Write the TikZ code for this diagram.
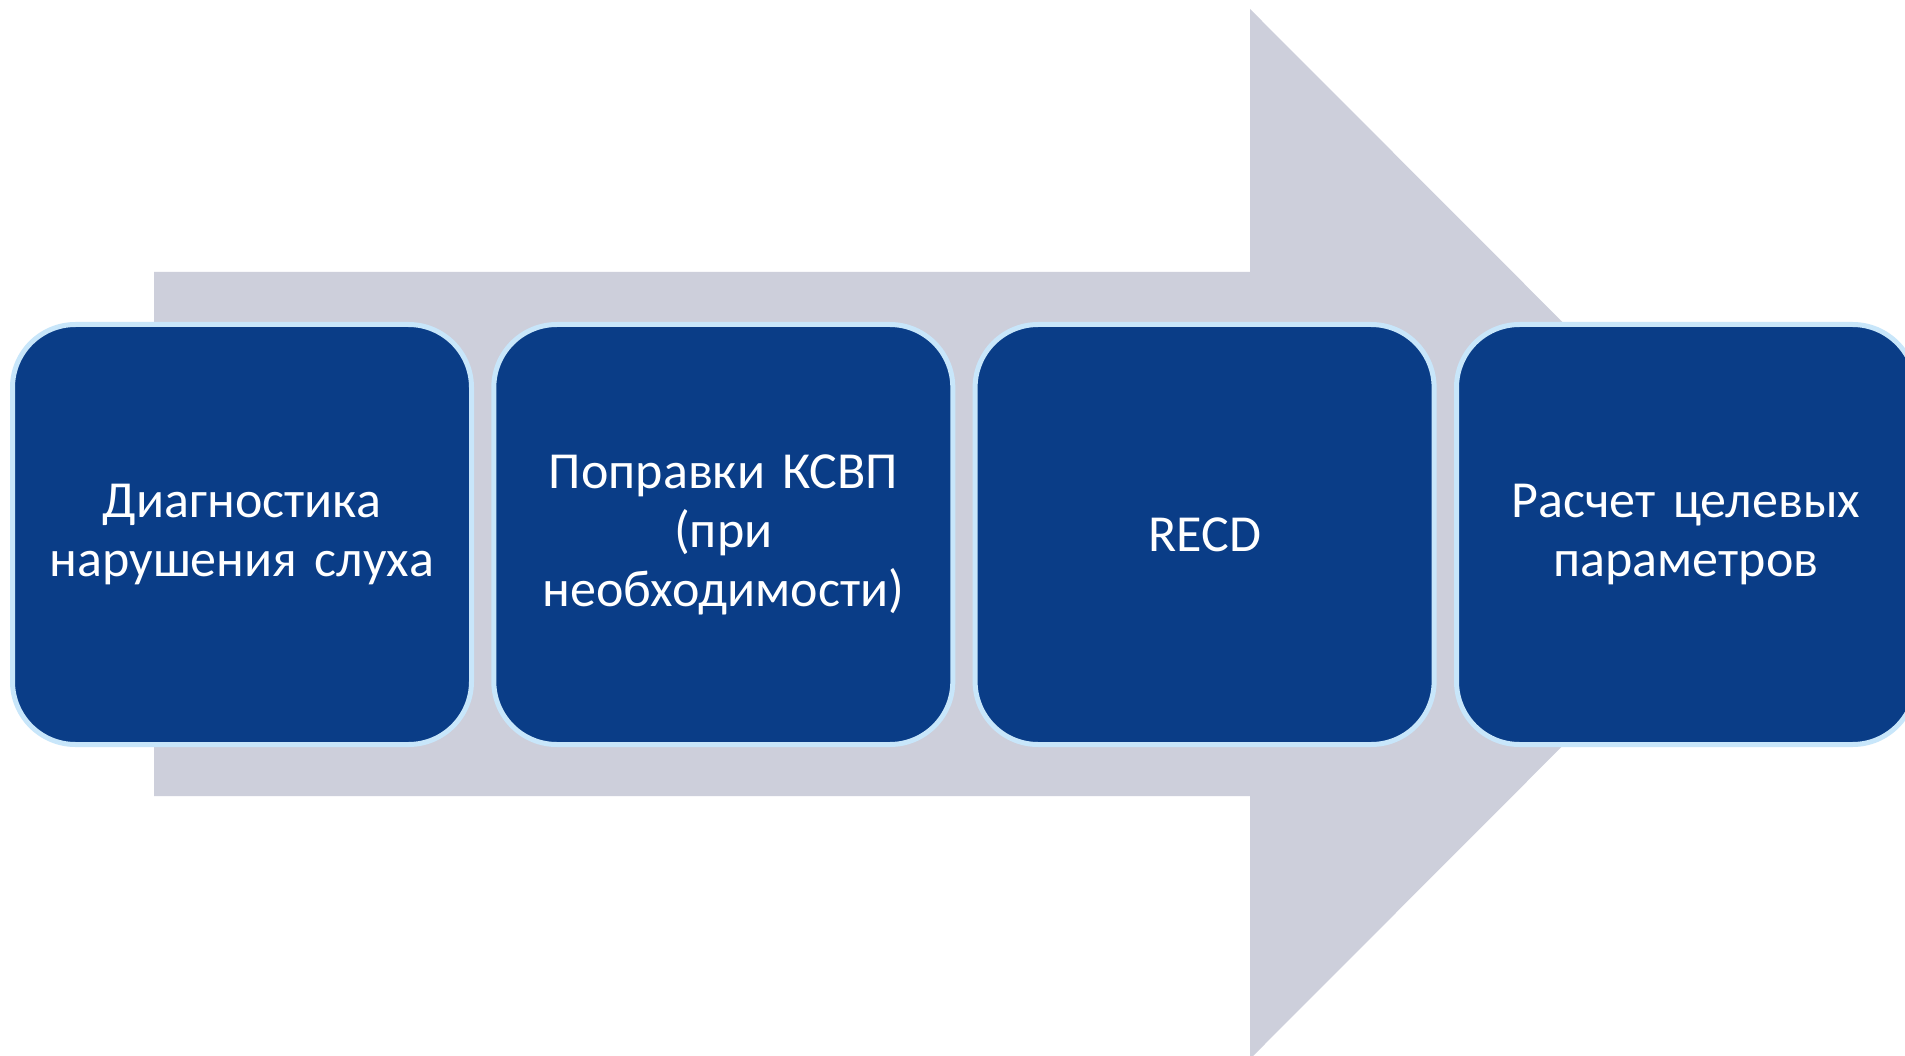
\documentclass[tikz,border=0pt]{standalone}
\usepackage{fontspec}
\setmainfont{Carlito}
\definecolor{arrowgray}{HTML}{CDCFDB}
\definecolor{boxblue}{HTML}{0A3D87}
\definecolor{boxedge}{HTML}{C8E6FA}
\begin{document}
\begin{tikzpicture}[x=1pt,y=-1pt,
  stepbox/.style={draw=boxedge, line width=5pt, fill=boxblue, rounded corners=63pt,
    minimum width=459pt, minimum height=420pt, inner sep=0pt,
    text width=440pt, align=center, text=white,
    font=\fontsize{52}{59}\selectfont}]
\useasboundingbox (0,0) rectangle (1905,1056);
\fill[white] (0,0) rectangle (1905,1056);
% big arrow
\fill[arrowgray] (154,272) -- (1250,272) -- (1250,9) -- (1774,534) -- (1250,1059)
  -- (1250,796) -- (154,796) -- cycle;
\node[stepbox] (b1) at (242,534.5) {Диагностика\\нарушения слуха};
\node[stepbox] (b2) at (723.3,534.5) {Поправки КСВП\\(при\\необходимости)};
\node[stepbox] (b3) at (1204.6,534.5) {RECD};
\node[stepbox] (b4) at (1686,534.5) {Расчет целевых\\параметров};
\end{tikzpicture}
\end{document}
